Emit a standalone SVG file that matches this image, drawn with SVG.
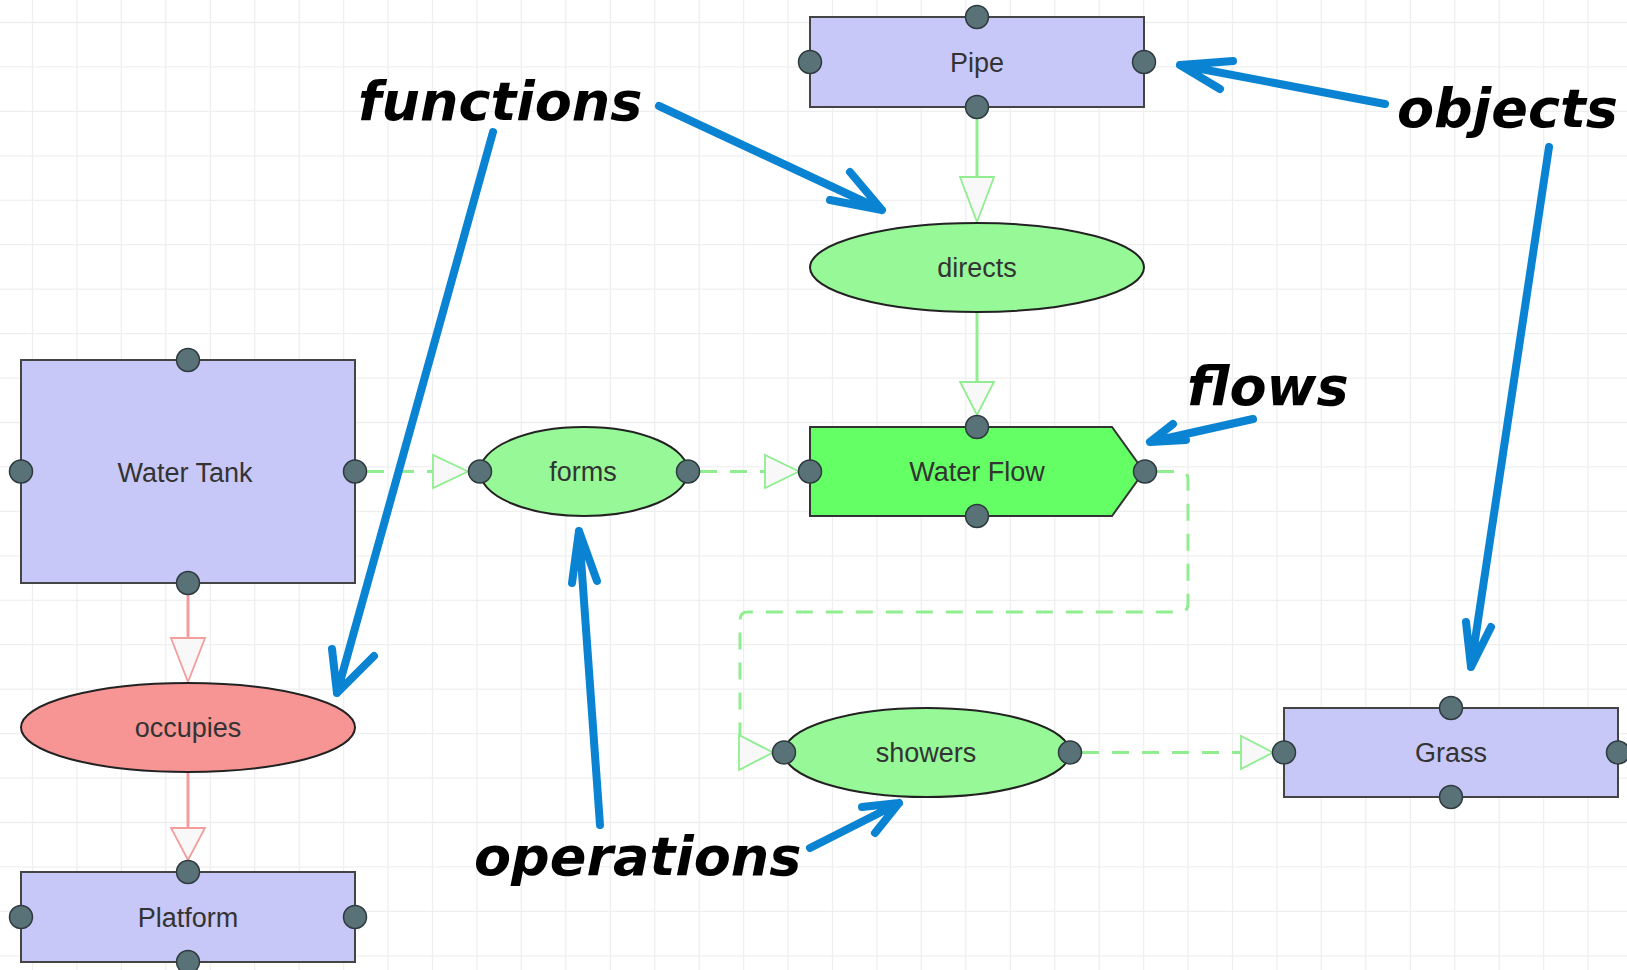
<svg xmlns="http://www.w3.org/2000/svg" width="1627" height="970" viewBox="0 0 1627 970">
  <style>
    .grid { stroke: #efefef; stroke-width: 1.3; fill: none; }
    .obj { fill: #c8c8f8; stroke: #444; stroke-width: 2; }
    .fn { fill: #96f896; stroke: #222; stroke-width: 2; }
    .fn-red { fill: #f79494; stroke: #222; stroke-width: 2; }
    .flow { fill: #64ff64; stroke: #333; stroke-width: 2; }
    .port { fill: #587278; stroke: #2e3a3e; stroke-width: 1.5; }
    .label { font-family: "Liberation Sans", Arial, sans-serif; font-size: 27px; fill: #333; text-anchor: middle; }
    .link-g { fill: none; stroke: #90ee90; stroke-width: 3; }
    .link-g-dash { fill: none; stroke: #90ee90; stroke-width: 3; stroke-dasharray: 17 13; }
    .link-r { fill: none; stroke: #f59c9c; stroke-width: 3; }
    .head-g { fill: #f8f8f8; stroke: #90ee90; stroke-width: 1.8; }
    .head-r { fill: #f8f8f8; stroke: #f59c9c; stroke-width: 1.8; }
    .note { fill: none; stroke: #0a84d2; stroke-width: 8; stroke-linecap: round; stroke-linejoin: round; }
    .note-text { font-family: "DejaVu Sans", sans-serif; font-weight: bold; font-style: italic; font-size: 54px; fill: #000; }
  </style>

  <rect x="0" y="0" width="1627" height="970" fill="#ffffff"/>

  <!-- background grid -->
  <path class="grid" d="
    M32.5 0V970 M76.9 0V970 M121.4 0V970 M165.8 0V970 M210.3 0V970 M254.7 0V970
    M299.2 0V970 M343.6 0V970 M388.1 0V970 M432.5 0V970 M476.9 0V970 M521.4 0V970
    M565.8 0V970 M610.3 0V970 M654.7 0V970 M699.2 0V970 M743.6 0V970 M788.1 0V970
    M832.5 0V970 M876.9 0V970 M921.4 0V970 M965.8 0V970 M1010.3 0V970 M1054.7 0V970
    M1099.2 0V970 M1143.6 0V970 M1188.1 0V970 M1232.5 0V970 M1276.9 0V970 M1321.4 0V970
    M1365.8 0V970 M1410.3 0V970 M1454.7 0V970 M1499.2 0V970 M1543.6 0V970 M1588.1 0V970
    M0 22.5H1627 M0 66.9H1627 M0 111.4H1627 M0 155.8H1627 M0 200.3H1627 M0 244.7H1627
    M0 289.2H1627 M0 333.6H1627 M0 378.1H1627 M0 422.5H1627 M0 466.9H1627 M0 511.4H1627
    M0 555.8H1627 M0 600.3H1627 M0 644.7H1627 M0 689.2H1627 M0 733.6H1627 M0 778.1H1627
    M0 822.5H1627 M0 866.9H1627 M0 911.4H1627 M0 955.8H1627"/>

  <!-- connectors between nodes -->
  <g id="connectors">
    <!-- Pipe -> directs -->
    <path class="link-g" d="M977 118V178"/>
    <polygon class="head-g" points="960,177 994,177 977,222"/>
    <!-- directs -> Water Flow -->
    <path class="link-g" d="M977 312V383"/>
    <polygon class="head-g" points="960,382 994,382 977,415"/>
    <!-- Water Tank -> forms -->
    <path class="link-g-dash" d="M367 471.5H434"/>
    <polygon class="head-g" points="433,455 433,488 468,471.5"/>
    <!-- forms -> Water Flow -->
    <path class="link-g-dash" d="M700 471.5H766"/>
    <polygon class="head-g" points="765,455 765,488 799,471.5"/>
    <!-- Water Flow -> showers -->
    <path class="link-g-dash" d="M1157 471.5H1180Q1188 471.5 1188 479.5V604Q1188 612 1180 612H748Q740 612 740 620V752.5H741"/>
    <polygon class="head-g" points="739,735 739,770 773,752.5"/>
    <!-- showers -> Grass -->
    <path class="link-g-dash" d="M1082 752.5H1242"/>
    <polygon class="head-g" points="1241,736 1241,769 1273,752.5"/>
    <!-- Water Tank -> occupies -->
    <path class="link-r" d="M188 594V639"/>
    <polygon class="head-r" points="171,638 205,638 188,682"/>
    <!-- occupies -> Platform -->
    <path class="link-r" d="M188 772V829"/>
    <polygon class="head-r" points="171,828 205,828 188,860"/>
  </g>

  <g id="node-pipe">
    <rect class="obj" x="810" y="17" width="334" height="90"/>
    <text class="label" x="977" y="72">Pipe</text>
    <circle class="port" cx="977" cy="17" r="11.5"/>
    <circle class="port" cx="810" cy="62" r="11.5"/>
    <circle class="port" cx="1144" cy="62" r="11.5"/>
    <circle class="port" cx="977" cy="107" r="11.5"/>
  </g>

  <g id="node-directs">
    <ellipse class="fn" cx="977" cy="267.5" rx="167" ry="44.5"/>
    <text class="label" x="977" y="277">directs</text>
  </g>

  <g id="node-water-tank">
    <rect class="obj" x="21" y="360" width="334" height="223"/>
    <text class="label" x="185" y="482">Water Tank</text>
    <circle class="port" cx="188" cy="360" r="11.5"/>
    <circle class="port" cx="21" cy="471.5" r="11.5"/>
    <circle class="port" cx="355" cy="471.5" r="11.5"/>
    <circle class="port" cx="188" cy="583" r="11.5"/>
  </g>

  <g id="node-forms">
    <ellipse class="fn" cx="584" cy="471.5" rx="104" ry="44.5"/>
    <text class="label" x="583" y="481">forms</text>
    <circle class="port" cx="480" cy="471.5" r="11.5"/>
    <circle class="port" cx="688" cy="471.5" r="11.5"/>
  </g>

  <g id="node-water-flow">
    <polygon class="flow" points="810,427 1112,427 1144,471.5 1112,516 810,516"/>
    <text class="label" x="977" y="481">Water Flow</text>
    <circle class="port" cx="977" cy="427" r="11.5"/>
    <circle class="port" cx="810" cy="471.5" r="11.5"/>
    <circle class="port" cx="1145" cy="471.5" r="11.5"/>
    <circle class="port" cx="977" cy="516" r="11.5"/>
  </g>

  <g id="node-occupies">
    <ellipse class="fn-red" cx="188" cy="727.5" rx="167" ry="44.5"/>
    <text class="label" x="188" y="737">occupies</text>
  </g>

  <g id="node-platform">
    <rect class="obj" x="21" y="872" width="334" height="90"/>
    <text class="label" x="188" y="927">Platform</text>
    <circle class="port" cx="188" cy="872" r="11.5"/>
    <circle class="port" cx="21" cy="917" r="11.5"/>
    <circle class="port" cx="355" cy="917" r="11.5"/>
    <circle class="port" cx="188" cy="962" r="11.5"/>
  </g>

  <g id="node-showers">
    <ellipse class="fn" cx="927" cy="752.5" rx="143" ry="44.5"/>
    <text class="label" x="926" y="762">showers</text>
    <circle class="port" cx="784" cy="752.5" r="11.5"/>
    <circle class="port" cx="1070" cy="752.5" r="11.5"/>
  </g>

  <g id="node-grass">
    <rect class="obj" x="1284" y="708" width="334" height="89"/>
    <text class="label" x="1451" y="762">Grass</text>
    <circle class="port" cx="1451" cy="708" r="11.5"/>
    <circle class="port" cx="1284" cy="752.5" r="11.5"/>
    <circle class="port" cx="1618" cy="752.5" r="11.5"/>
    <circle class="port" cx="1451" cy="797" r="11.5"/>
  </g>

  <!-- annotation callouts -->
  <g id="annotations">
    <text class="note-text" x="358" y="120">functions</text>
    <path class="note" d="M659 106L882 210M850 172L882 210L830 200"/>
    <path class="note" d="M493 132L337 693M332 649L337 693L374 656"/>

    <text class="note-text" x="1397" y="127">objects</text>
    <path class="note" d="M1385 104L1180 65M1233 61L1180 65L1220 89"/>
    <path class="note" d="M1549 147L1471 667M1466 622L1471 667L1491 627"/>

    <text class="note-text" x="1187" y="405">flows</text>
    <path class="note" d="M1253 419L1150 442M1173 424L1150 442L1186 440"/>

    <text class="note-text" x="474" y="875">operations</text>
    <path class="note" d="M600 825L579 531M572 583L579 531L597 581"/>
    <path class="note" d="M810 848L899 803M862 807L899 803L875 833"/>
  </g>
</svg>
